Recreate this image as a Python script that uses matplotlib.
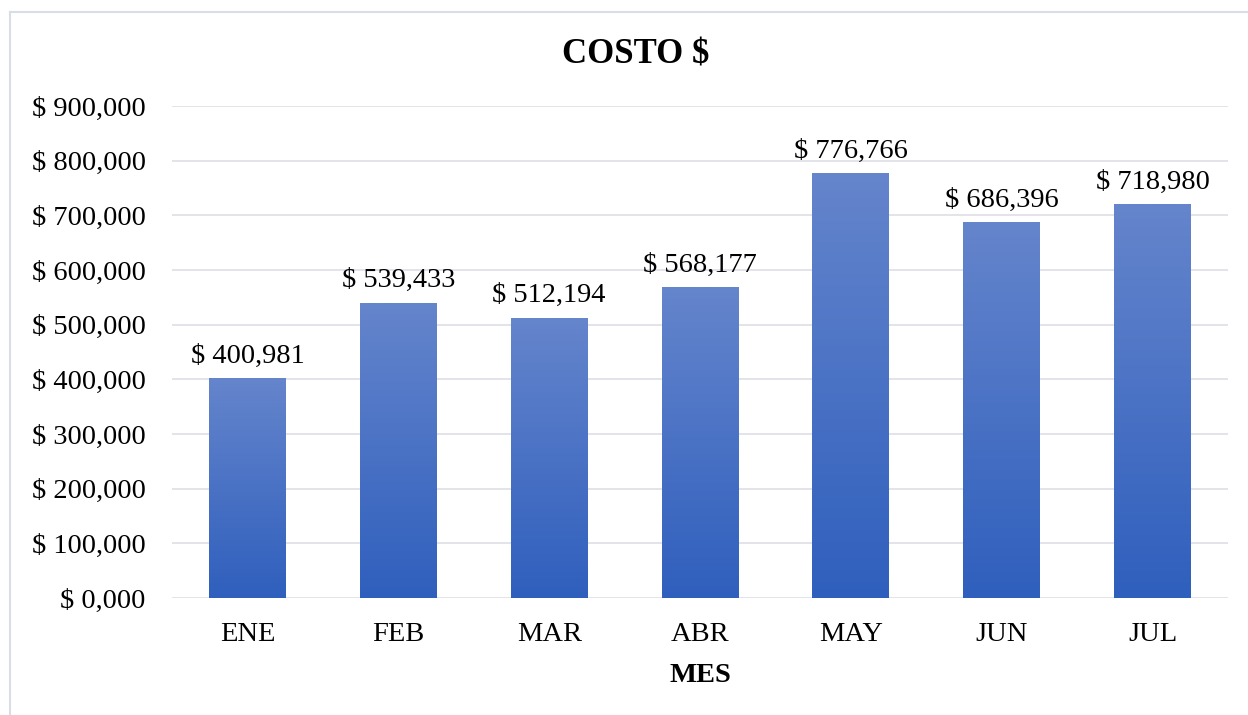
import numpy as np
import matplotlib.pyplot as plt
from matplotlib.colors import LinearSegmentedColormap
from matplotlib.ticker import FuncFormatter
from matplotlib.lines import Line2D

# datos
meses = ["ENE", "FEB", "MAR", "ABR", "MAY", "JUN", "JUL"]
costos = [400981, 539433, 512194, 568177, 776766, 686396, 718980]

plt.rcParams['font.family'] = ['Liberation Serif', 'DejaVu Serif']

fig = plt.figure(figsize=(12.48, 7.15), dpi=100)
ax = fig.add_axes([172 / 1248, 1 - 598 / 715, (1228 - 172) / 1248, (598 - 106) / 715])

# borde del gráfico (solo se ven arriba e izquierda)
borde = '#d9dde6'
fig.lines.append(Line2D([10 / 1248, 10 / 1248], [0, 1 - 12 / 715], transform=fig.transFigure,
                        color=borde, linewidth=1.5))
fig.lines.append(Line2D([10 / 1248, 1], [1 - 12 / 715, 1 - 12 / 715], transform=fig.transFigure,
                        color=borde, linewidth=1.5))

x = np.arange(len(meses))
ancho = 0.51
bars = ax.bar(x, costos, width=ancho, color='none', zorder=3)

# degradado de cada barra
cmap = LinearSegmentedColormap.from_list('azul', ['#2f5fbd', '#6585cc'])
grad = np.linspace(0, 1, 256).reshape(-1, 1)
for b in bars:
    x0, y0 = b.get_x(), b.get_y()
    ax.imshow(grad, cmap=cmap, origin='lower', aspect='auto', zorder=3,
              extent=[x0, x0 + b.get_width(), y0, y0 + b.get_height()])

for xi, v in zip(x, costos):
    ax.annotate(f"$ {v:,}", (xi, v), xytext=(0, 7), textcoords='offset points',
                ha='center', va='bottom', fontsize=20.5)

ax.set_xlim(-0.5, len(meses) - 0.5)
ax.set_ylim(0, 900000)
ax.set_yticks(np.arange(0, 900001, 100000))
ax.yaxis.set_major_formatter(FuncFormatter(lambda v, p: "$ 0,000" if v == 0 else f"$ {int(v):,}"))
ax.set_xticks(x)
ax.set_xticklabels(meses)
ax.tick_params(axis='both', length=0, labelsize=20.5)
ax.tick_params(axis='x', pad=17)
ax.tick_params(axis='y', pad=19)
ax.grid(axis='y', color='#dfe2e8', linewidth=1.3, zorder=0)
for s in ax.spines.values():
    s.set_visible(False)

ax.set_xlabel("MES", fontsize=20.5, fontweight='bold', labelpad=12)
fig.text(636 / 1248, 1 - 55 / 715, "COSTO $", ha='center', va='center',
         fontsize=25, fontweight='bold')

fig.savefig("out.png", dpi=100)
